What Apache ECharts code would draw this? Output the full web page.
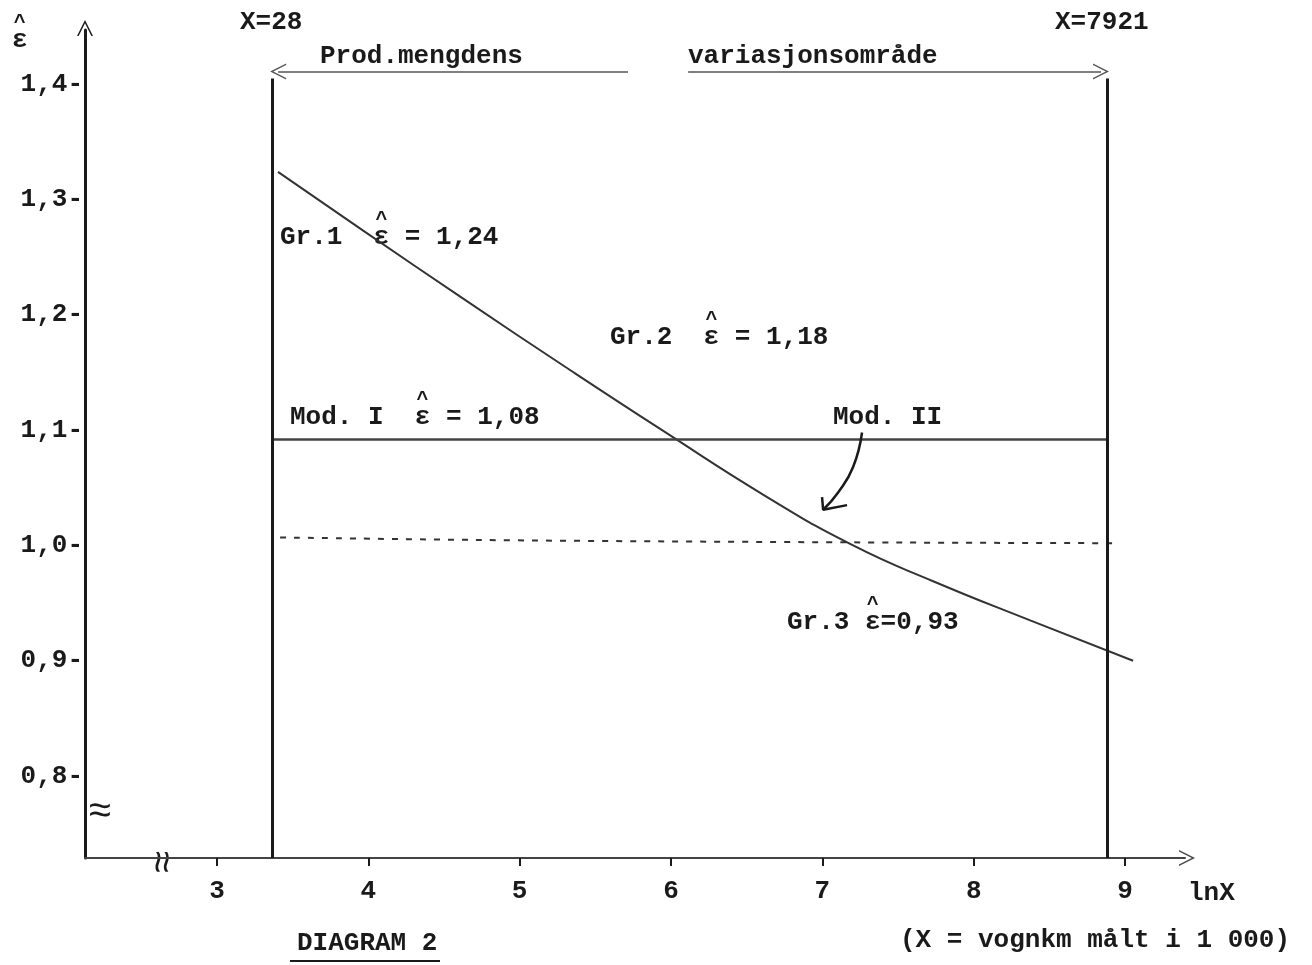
<!DOCTYPE html>
<html lang="no">
<head>
    <meta charset="UTF-8">
    <title>Diagram 2</title>
    <script src="https://cdn.jsdelivr.net/npm/echarts@6/dist/echarts.min.js"></script>
    <style>
        html, body { margin: 0; padding: 0; background: #fff; }
        #container { width: 1312px; height: 965px; }
    </style>
</head>
<body>
<div id="container"></div>
<script type="text/javascript">
    // tick labels
    var xTicks = [3, 4, 5, 6, 7, 8, 9];
    var yTicks = [0.8, 0.9, 1.0, 1.1, 1.2, 1.3, 1.4];

    // Gr.1 / Gr.2 / Gr.3 curve (lnX, eps)
    var curveX = [3.403, 3.978, 4.639, 5.300, 5.941, 6.635, 7.203, 7.732, 8.373, 9.053];
    var curveY = [1.324, 1.272, 1.213, 1.155, 1.100, 1.042, 1.000, 0.969, 0.935, 0.900];

    // Mod. I (solid) and Mod. II (dashed)
    var mod1X = [3.364, 8.881];
    var mod1Y = [1.092, 1.092];
    var mod2X = [3.417, 5.399, 8.934];
    var mod2Y = [1.007, 1.004, 1.002];

    // pointer from "Mod. II" label down to the curve
    var pointerX = [7.262, 7.203, 7.104, 7.005];
    var pointerY = [1.098, 1.068, 1.046, 1.031];
    var pointerHeadX = [6.998, 7.005, 7.163];
    var pointerHeadY = [1.042, 1.031, 1.035];

    // production range: X=28 .. X=7921
    var rangeX = [3.364, 8.881];
    var rangeTop = 1.405;
    var rangeArrowY = 1.411;
    var rangeGap = [5.716, 6.113];

    var xMin = 2.128, xMax = 9.396;
    var yMin = 0.729, yMax = 1.447;

    function pairs(xs, ys) {
        return xs.map(function (x, i) { return [x, ys[i]]; });
    }

    var FONT = '"Liberation Mono", "Courier New", monospace';
    var FS = 26;
    var CW = FS * 0.6;
    var INK = '#1a1a1a';
    var chevron = 'path://M10,0 L20,20 L18,20 L10,4 L2,20 L0,20 Z';

    var dom = document.getElementById('container');
    var myChart = echarts.init(dom, null, { renderer: 'canvas' });

    function txt(x, y, s) {
        return {
            type: 'text', x: x, y: y,
            style: { text: s, font: 'bold ' + FS + 'px ' + FONT, fill: INK, textVerticalAlign: 'middle' }
        };
    }

    // text with a hat over every ε
    function hatTxt(x, y, s) {
        var out = [txt(x, y, s)];
        for (var i = 0; i < s.length; i++) {
            if (s.charAt(i) === 'ε') {
                out.push({
                    type: 'text', x: x + i * CW + CW / 2, y: y - 17,
                    style: { text: '^', font: 'bold 20px ' + FONT, fill: INK,
                             textVerticalAlign: 'middle', textAlign: 'center' }
                });
            }
        }
        return out;
    }

    var labels = [].concat(
        hatTxt(12, 40, 'ε'),
        [txt(240, 22, 'X=28'), txt(1055, 22, 'X=7921'),
         txt(320, 56, 'Prod.mengdens'), txt(688, 56, 'variasjonsområde')],
        hatTxt(280, 237, 'Gr.1  ε = 1,24'),
        hatTxt(610, 337, 'Gr.2  ε = 1,18'),
        hatTxt(290, 417, 'Mod. I  ε = 1,08'),
        [txt(833, 417, 'Mod. II')],
        hatTxt(787, 622, 'Gr.3 ε=0,93'),
        [txt(1188, 893, 'lnX'),
         txt(900, 940, '(X = vognkm målt i 1 000)'),
         txt(297, 943, 'DIAGRAM 2')]
    );

    var option = {
        backgroundColor: '#fff',
        animation: false,
        grid: { left: 85, right: 127, top: 30, bottom: 107 },
        xAxis: {
            type: 'value',
            min: xMin, max: xMax,
            axisLine: {
                onZero: false,
                symbol: ['none', chevron], symbolSize: [16, 16], symbolOffset: [0, 2],
                lineStyle: { color: '#444', width: 2 }
            },
            axisTick: { show: true, customValues: xTicks, length: 8, lineStyle: { color: INK, width: 2 } },
            axisLabel: {
                customValues: xTicks, margin: 20,
                fontFamily: FONT, fontSize: FS, fontWeight: 'bold', color: INK
            },
            splitLine: { show: false }
        },
        yAxis: {
            type: 'value',
            min: yMin, max: yMax,
            axisLine: {
                onZero: false,
                symbol: ['none', chevron], symbolSize: [16, 16], symbolOffset: [0, 2],
                lineStyle: { color: INK, width: 3 }
            },
            axisTick: { show: false },
            axisLabel: {
                customValues: yTicks, margin: 2,
                fontFamily: FONT, fontSize: FS, fontWeight: 'bold', color: INK,
                formatter: function (v) { return v.toFixed(1).replace('.', ',') + '-'; }
            },
            splitLine: { show: false }
        },
        series: [
            {
                name: 'Gr',
                type: 'line',
                data: pairs(curveX, curveY),
                smooth: true,
                symbol: 'none',
                lineStyle: { color: '#333', width: 2 },
                markLine: {
                    silent: true,
                    symbol: 'none',
                    label: { show: false },
                    lineStyle: { color: INK, width: 3, type: 'solid' },
                    data: [
                        [{ coord: [rangeX[0], yMin] }, { coord: [rangeX[0], rangeTop] }],
                        [{ coord: [rangeX[1], yMin] }, { coord: [rangeX[1], rangeTop] }],
                        [
                            { coord: [rangeX[0] + 0.04, rangeArrowY], symbol: chevron, symbolSize: 16,
                              lineStyle: { width: 1.5, color: '#555' } },
                            { coord: [rangeGap[0], rangeArrowY], symbol: 'none' }
                        ],
                        [
                            { coord: [rangeGap[1], rangeArrowY], symbol: 'none',
                              lineStyle: { width: 1.5, color: '#555' } },
                            { coord: [rangeX[1] - 0.04, rangeArrowY], symbol: chevron, symbolSize: 16 }
                        ]
                    ]
                }
            },
            {
                name: 'Mod. I',
                type: 'line',
                data: pairs(mod1X, mod1Y),
                symbol: 'none',
                lineStyle: { color: '#444', width: 2.5 }
            },
            {
                name: 'Mod. II',
                type: 'line',
                data: pairs(mod2X, mod2Y),
                smooth: true,
                symbol: 'none',
                lineStyle: { color: '#333', width: 2, type: [6, 8] }
            },
            {
                name: 'pointer',
                type: 'line',
                data: pairs(pointerX, pointerY),
                smooth: true,
                symbol: 'none',
                lineStyle: { color: INK, width: 2.5 }
            },
            {
                name: 'pointerHead',
                type: 'line',
                data: pairs(pointerHeadX, pointerHeadY),
                symbol: 'none',
                lineStyle: { color: INK, width: 2.5 }
            }
        ],
        graphic: labels.concat([
            { type: 'line', shape: { x1: 290, y1: 961, x2: 440, y2: 961 }, style: { stroke: INK, lineWidth: 2 } },
            { type: 'text', x: 88, y: 812, style: { text: '≈', font: '40px ' + FONT, fill: INK, textVerticalAlign: 'middle' } },
            { type: 'text', x: 160, y: 862, rotation: -Math.PI / 2,
              style: { text: '≈', font: '40px ' + FONT, fill: INK, textVerticalAlign: 'middle', textAlign: 'center' } }
        ])
    };

    myChart.setOption(option);
    window.addEventListener('resize', myChart.resize);
</script>
</body>
</html>
